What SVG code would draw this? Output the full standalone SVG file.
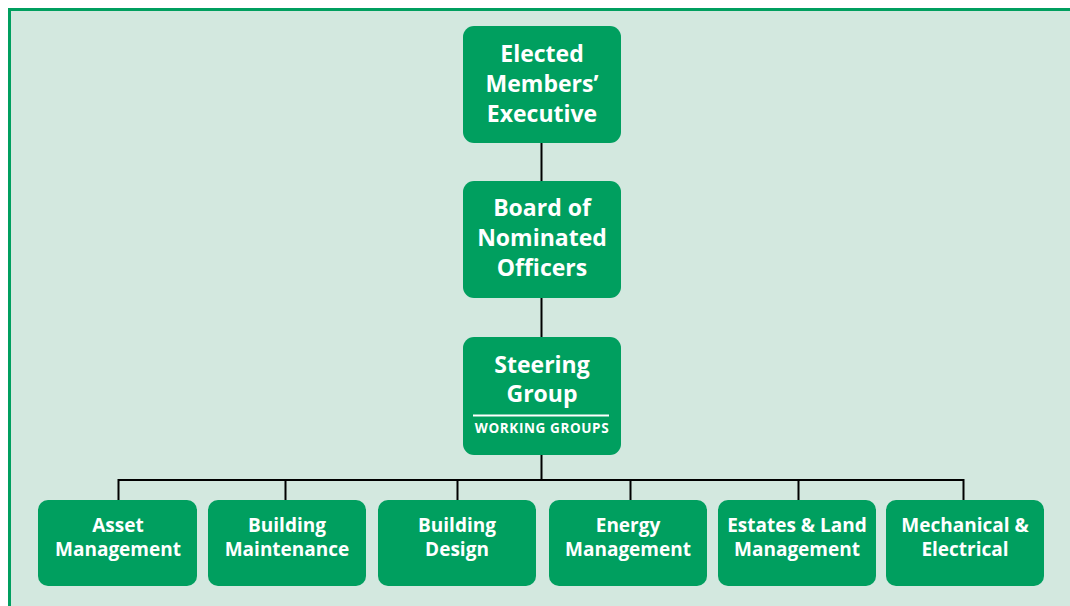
<svg xmlns="http://www.w3.org/2000/svg" width="1070" height="606" viewBox="0 0 1070 606">
<style>
.box{fill:#009f5f}
.t{font-family:"Open Sans","Liberation Sans",sans-serif;font-weight:bold;fill:#fff;text-anchor:middle}
.big{font-size:23px}
.sm{font-size:19px}
.xs{font-size:13.5px;letter-spacing:0.6px}
.ln{stroke:#000;stroke-width:2;fill:none}
</style>
<rect x="9.5" y="9.5" width="1070" height="610" fill="#d3e8df" stroke="#009f5f" stroke-width="3"/>
<g id="connectors">
<path class="ln" d="M541.5 143V181M541.5 298V337M541.5 455V480M118.5 500V480H963.5V500M285.5 480V500M457.5 480V500M630.5 480V500M798.5 480V500"/>
</g>
<g id="n1"><rect class="box" x="463" y="26" width="158" height="117" rx="11"/>
<text class="t big" x="542" y="62">Elected</text><text class="t big" x="542" y="92">Members’</text><text class="t big" x="542" y="122">Executive</text></g>
<g id="n2"><rect class="box" x="463" y="181" width="158" height="117" rx="11"/>
<text class="t big" x="542" y="216">Board of</text><text class="t big" x="542" y="246">Nominated</text><text class="t big" x="542" y="276">Officers</text></g>
<g id="n3"><rect class="box" x="463" y="337" width="158" height="118" rx="11"/>
<text class="t big" x="542" y="373">Steering</text><text class="t big" x="542" y="402">Group</text>
<line x1="473" y1="415.5" x2="609" y2="415.5" stroke="#fff" stroke-width="2"/>
<text class="t xs" x="542" y="433">WORKING GROUPS</text></g>
<g id="b1"><rect class="box" x="38" y="500" width="159" height="86" rx="10"/><text class="t sm" x="118" y="532">Asset</text><text class="t sm" x="118" y="556">Management</text></g>
<g id="b2"><rect class="box" x="208" y="500" width="158" height="86" rx="10"/><text class="t sm" x="287" y="532">Building</text><text class="t sm" x="287" y="556">Maintenance</text></g>
<g id="b3"><rect class="box" x="378" y="500" width="158" height="86" rx="10"/><text class="t sm" x="457" y="532">Building</text><text class="t sm" x="457" y="556">Design</text></g>
<g id="b4"><rect class="box" x="549" y="500" width="158" height="86" rx="10"/><text class="t sm" x="628" y="532">Energy</text><text class="t sm" x="628" y="556">Management</text></g>
<g id="b5"><rect class="box" x="718" y="500" width="158" height="86" rx="10"/><text class="t sm" x="797" y="532">Estates &amp; Land</text><text class="t sm" x="797" y="556">Management</text></g>
<g id="b6"><rect class="box" x="886" y="500" width="158" height="86" rx="10"/><text class="t sm" x="965" y="532">Mechanical &amp;</text><text class="t sm" x="965" y="556">Electrical</text></g>
</svg>
